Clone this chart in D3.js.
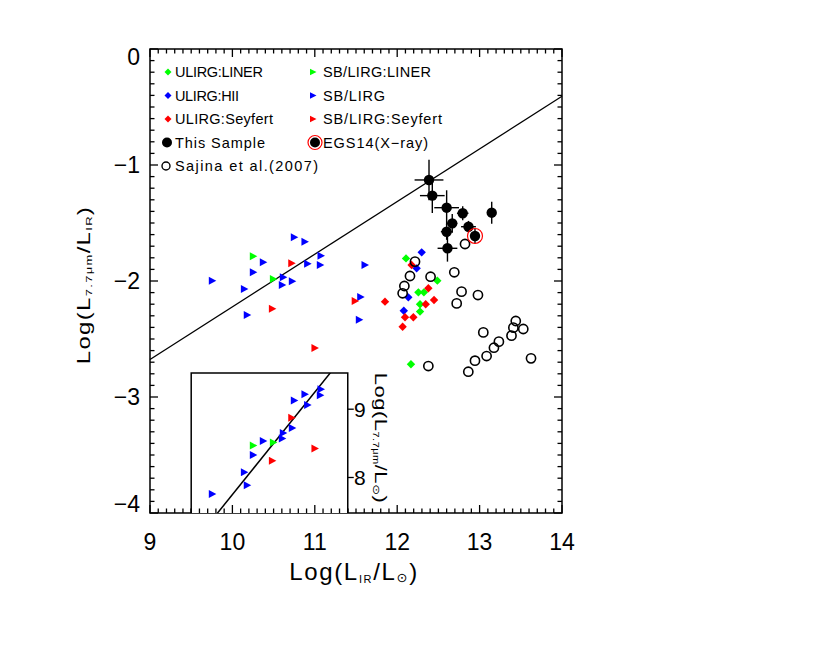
<!DOCTYPE html>
<html><head><meta charset="utf-8">
<script src="https://cdn.jsdelivr.net/npm/d3@7"></script>
<style>body{margin:0;background:#fff}svg{display:block}text{font-family:"Liberation Sans",Arial,sans-serif;fill:#000}</style>
</head><body><svg id="c" width="831" height="653"></svg>
<script>
// ---------- data ----------
const xTicks = [9, 10, 11, 12, 13, 14];
const yTicks = [0, -1, -2, -3, -4];
const insetYTicks = [8, 9];
// ULIRGs (diamonds): [log LIR, log(L7.7/LIR)]
const ulirgLiner = [[12.107,-1.805],[12.487,-1.997],[12.257,-2.098],[12.324,-2.098],[12.277,-2.2],[12.277,-2.264],[12.167,-2.718]];
const ulirgHii = [[12.297,-1.753],[12.236,-1.891],[12.135,-2.141],[12.08,-2.256]];
const ulirgSeyfert = [[12.175,-1.862],[12.378,-2.063],[12.447,-2.164],[12.346,-2.2],[12.095,-2.313],[12.196,-2.313],[12.066,-2.394],[11.852,-2.178]];
// SB/LIRGs (triangles)
const sbLiner = [[10.254,-1.787],[10.497,-1.983]];
const sbLirg = [[9.756,-1.997],[10.751,-1.623],[10.88,-1.661],[11.075,-1.782],[10.375,-1.839],[10.254,-1.925],[10.913,-1.851],[11.067,-1.862],[11.609,-1.862],[10.618,-1.968],[10.727,-2.003],[10.606,-2.034],[10.145,-2.069],[10.18,-2.293],[11.557,-2.138],[11.54,-2.333]];
const sbSeyfert = [[10.72,-1.847],[10.485,-2.239],[11.49,-2.172],[11.002,-2.578]];
// This sample: [x, y, xerr, yerr]
const thisSample = [[12.386,-1.129,0.175,0.175],[12.426,-1.264,0.15,0.15],[12.6,-1.368,0.15,0.15],[12.795,-1.416,0.07,0.06],[13.147,-1.411,0.03,0.095],[12.668,-1.503,0.06,0.08],[12.865,-1.532,0.09,0.05],[12.6,-1.575,0.07,0.07],[12.61,-1.718,0.12,0.115]];
const egs14 = [[12.944,-1.612,0.0,0.065]];
// Sajina et al. (2007)
const sajina = [[12.216,-1.833],[12.405,-1.963],[12.155,-1.957],[12.693,-1.925],[12.087,-2.043],[12.066,-2.106],[12.781,-2.092],[12.98,-2.121],[12.722,-2.193],[13.045,-2.443],[13.439,-2.345],[13.41,-2.402],[13.53,-2.414],[13.387,-2.471],[13.234,-2.523],[13.174,-2.575],[13.085,-2.647],[12.944,-2.687],[12.863,-2.782],[13.624,-2.667],[12.378,-2.733],[12.823,-1.681]];
// fit lines [slope, intercept]
const mainFit = [0.454, -6.763];
const insetFit = [1.5, -7.25];

const legendLeft = [["ULIRG:LINER","#00ff00","diamond"],["ULIRG:HII","#0000ff","diamond"],["ULIRG:Seyfert","#ff0000","diamond"],["This Sample","#000","filled"],["Sajina et al.(2007)","#000","open"]];
const legendRight = [["SB/LIRG:LINER","#00ff00","tri"],["SB/LIRG","#0000ff","tri"],["SB/LIRG:Seyfert","#ff0000","tri"],["EGS14(X\u2212ray)","#000","egs"]];

// ---------- layout ----------
const legendLeftW = [88, 64, 98, 90, 143];
const legendRightW = [108, 62, 119, 105];
const svg = d3.select("#c");
const L = 150, R = 562, T = 49, B = 513;
const x = d3.scaleLinear().domain([9, 14]).range([L, R]);
const y = d3.scaleLinear().domain([-4, 0]).range([B, T]);
const insetXDom = [9.5, 11.4];
const iy = d3.scaleLinear().domain([7.48, 9.53]).range([B, 373]);

const tri = "M-3.5,-4L4,0L-3.5,4Z";
const dia = "M0,-4.2L4.2,0L0,4.2L-4.2,0Z";

function fit(sel, target) {
  const n = sel.text().length;
  const w = sel.node().getComputedTextLength();
  sel.attr("letter-spacing", ((target - w) / (n - 1)).toFixed(2));
}

// ---------- axes ----------
const g = svg.append("g");
const minorX = d3.range(90, 141).map(d => d / 10);
const minorY = d3.range(-40, 1).map(d => d / 10);
minorX.forEach(v => {
  const maj = Math.abs(v - Math.round(v)) < 1e-6;
  const len = maj ? 8 : 4.5;
  g.append("line").attr("x1", x(v)).attr("x2", x(v)).attr("y1", B).attr("y2", B - len).attr("stroke", "#000").attr("stroke-width", 1.3);
  g.append("line").attr("x1", x(v)).attr("x2", x(v)).attr("y1", T).attr("y2", T + len).attr("stroke", "#000").attr("stroke-width", 1.3);
});
minorY.forEach(v => {
  const maj = Math.abs(v - Math.round(v)) < 1e-6;
  const len = maj ? 8 : 4.5;
  g.append("line").attr("x1", L).attr("x2", L + len).attr("y1", y(v)).attr("y2", y(v)).attr("stroke", "#000").attr("stroke-width", 1.3);
  g.append("line").attr("x1", R).attr("x2", R - len).attr("y1", y(v)).attr("y2", y(v)).attr("stroke", "#000").attr("stroke-width", 1.3);
});
xTicks.forEach(v => {
  g.append("text").attr("x", x(v)).attr("y", 550).attr("text-anchor", "middle").attr("font-size", 23).text(String(v));
});
yTicks.forEach(v => {
  let yy = y(v) + 8;
  if (v === 0) yy = y(v) + 16;
  if (v === -4) yy = y(v) - 1;
  g.append("text").attr("x", 140).attr("y", yy).attr("text-anchor", "end").attr("font-size", 23)
    .text(v === 0 ? "0" : "\u2212" + Math.abs(v));
});

// axis titles
const xt = g.append("text").attr("x", 354).attr("y", 580).attr("text-anchor", "middle").attr("font-size", 24);
xt.append("tspan").text("Log(L");
xt.append("tspan").attr("font-size", 11).attr("dy", 3).text("IR");
xt.append("tspan").attr("dy", -3).text("/L");
xt.append("tspan").attr("font-family", "DejaVu Sans").attr("font-size", 13).attr("dy", 2).text("\u2299");
xt.append("tspan").attr("dy", -2).text(")");
fit(xt, 128);

const yt = g.append("text").attr("transform", "translate(90,285) scale(0.76,1) rotate(-90)").attr("text-anchor", "middle").attr("font-size", 24);
yt.append("tspan").text("Log(L");
yt.append("tspan").attr("font-size", 13).attr("dy", 3).text("7.7\u03bcm");
yt.append("tspan").attr("dy", -3).text("/L");
yt.append("tspan").attr("font-size", 13).attr("dy", 3).text("IR");
yt.append("tspan").attr("dy", -3).text(")");
fit(yt, 157);

// frame
g.append("rect").attr("x", L).attr("y", T).attr("width", R - L).attr("height", B - T).attr("fill", "none").attr("stroke", "#000").attr("stroke-width", 1.5);

// ---------- main fit line ----------
svg.append("line").attr("x1", x(9)).attr("y1", y(mainFit[0] * 9 + mainFit[1]))
  .attr("x2", x(14)).attr("y2", y(mainFit[0] * 14 + mainFit[1])).attr("stroke", "#000").attr("stroke-width", 1.3);

// ---------- points ----------
const pts = svg.append("g");
function markers(data, path, color) {
  pts.selectAll(null).data(data).enter().append("path").attr("d", path)
    .attr("transform", d => `translate(${x(d[0])},${y(d[1])})`).attr("fill", color);
}
markers(sbLirg, tri, "#0000ff");
markers(sbLiner, tri, "#00ff00");
markers(sbSeyfert, tri, "#ff0000");
markers(ulirgLiner, dia, "#00ff00");
markers(ulirgHii, dia, "#0000ff");
markers(ulirgSeyfert, dia, "#ff0000");

pts.selectAll(null).data(sajina).enter().append("circle")
  .attr("cx", d => x(d[0])).attr("cy", d => y(d[1])).attr("r", 4.6)
  .attr("fill", "none").attr("stroke", "#000").attr("stroke-width", 1.6);

const eb = [...thisSample, ...egs14];
eb.forEach(d => {
  if (d[2] > 0) pts.append("line").attr("x1", x(d[0] - d[2])).attr("x2", x(d[0] + d[2])).attr("y1", y(d[1])).attr("y2", y(d[1])).attr("stroke", "#000").attr("stroke-width", 1.4);
  if (d[3] > 0) pts.append("line").attr("x1", x(d[0])).attr("x2", x(d[0])).attr("y1", y(d[1] - d[3])).attr("y2", y(d[1] + d[3])).attr("stroke", "#000").attr("stroke-width", 1.4);
});
pts.selectAll(null).data(thisSample).enter().append("circle")
  .attr("cx", d => x(d[0])).attr("cy", d => y(d[1])).attr("r", 5.2).attr("fill", "#000");
pts.selectAll(null).data(egs14).enter().append("circle")
  .attr("cx", d => x(d[0])).attr("cy", d => y(d[1])).attr("r", 7.5).attr("fill", "none").attr("stroke", "#ff0000").attr("stroke-width", 1.2);
pts.selectAll(null).data(egs14).enter().append("circle")
  .attr("cx", d => x(d[0])).attr("cy", d => y(d[1])).attr("r", 5.2).attr("fill", "#000");

// ---------- legend ----------
const lg = svg.append("g");
function legendMarker(gx, gy, kind, color) {
  if (kind === "diamond") lg.append("path").attr("d", "M0,-3.5L3.5,0L0,3.5L-3.5,0Z").attr("transform", `translate(${gx},${gy})`).attr("fill", color);
  else if (kind === "tri") lg.append("path").attr("d", "M-3,-3.2L3.5,0L-3,3.2Z").attr("transform", `translate(${gx},${gy})`).attr("fill", color);
  else if (kind === "filled") lg.append("circle").attr("cx", gx).attr("cy", gy).attr("r", 5).attr("fill", "#000");
  else if (kind === "open") lg.append("circle").attr("cx", gx).attr("cy", gy).attr("r", 4).attr("fill", "none").attr("stroke", "#000").attr("stroke-width", 1.4);
  else if (kind === "egs") {
    lg.append("circle").attr("cx", gx).attr("cy", gy).attr("r", 7).attr("fill", "none").attr("stroke", "#ff0000").attr("stroke-width", 1.2);
    lg.append("circle").attr("cx", gx).attr("cy", gy).attr("r", 5).attr("fill", "#000");
  }
}
const rowY = [72, 95.5, 119, 142.5, 166];
legendLeft.forEach((d, i) => {
  const mx = d[2] === "filled" ? 167 : (d[2] === "open" ? 166 : 168);
  legendMarker(mx, rowY[i], d[2], d[1]);
  const t = lg.append("text").attr("x", 175).attr("y", rowY[i] + 5.2).attr("font-size", 14.5).text(d[0]);
  fit(t, legendLeftW[i]);
});
legendRight.forEach((d, i) => {
  const mx = d[2] === "egs" ? 315 : 313;
  legendMarker(mx, rowY[i], d[2], d[1]);
  const t = lg.append("text").attr("x", 323).attr("y", rowY[i] + 5.2).attr("font-size", 14.5).text(d[0]);
  fit(t, legendRightW[i]);
});

// ---------- inset ----------
const ins = svg.append("g");
const iL = x(insetXDom[0]), iR = x(insetXDom[1]);
ins.append("rect").attr("x", iL).attr("y", iy.range()[1]).attr("width", iR - iL).attr("height", B - iy.range()[1])
  .attr("fill", "#fff").attr("stroke", "none");
minorX.filter(v => v >= insetXDom[0] && v <= insetXDom[1]).forEach(v => {
  const maj = Math.abs(v - Math.round(v)) < 1e-6;
  ins.append("line").attr("x1", x(v)).attr("x2", x(v)).attr("y1", B).attr("y2", B - (maj ? 8 : 4.5)).attr("stroke", "#000").attr("stroke-width", 1.3);
});
ins.append("defs").append("clipPath").attr("id", "ic").append("rect")
  .attr("x", iL).attr("y", iy.range()[1]).attr("width", iR - iL).attr("height", B - iy.range()[1]);
const inside = d => d[0] >= insetXDom[0] && d[0] <= insetXDom[1];
const ig = ins.append("g").attr("clip-path", "url(#ic)");
ig.append("line").attr("x1", x(9.5)).attr("y1", iy(insetFit[0] * 9.5 + insetFit[1]))
  .attr("x2", x(11.4)).attr("y2", iy(insetFit[0] * 11.4 + insetFit[1])).attr("stroke", "#000").attr("stroke-width", 1.5);
function imarkers(data, color) {
  ig.selectAll(null).data(data.filter(inside)).enter().append("path").attr("d", tri)
    .attr("transform", d => `translate(${x(d[0])},${iy(d[0] + d[1])})`).attr("fill", color);
}
imarkers(sbLirg, "#0000ff");
imarkers(sbLiner, "#00ff00");
imarkers(sbSeyfert, "#ff0000");
ins.append("polyline").attr("points", `${iL},${B} ${iL},${iy.range()[1]} ${iR},${iy.range()[1]} ${iR},${B}`)
  .attr("fill", "none").attr("stroke", "#000").attr("stroke-width", 1.5);
insetYTicks.forEach(v => {
  ins.append("line").attr("x1", iR).attr("x2", iR + 6).attr("y1", iy(v)).attr("y2", iy(v)).attr("stroke", "#000").attr("stroke-width", 1.3);
  ins.append("text").attr("x", iR + 12).attr("y", iy(v) + 8).attr("text-anchor", "middle").attr("font-size", 21).text(String(v));
});
const it = ins.append("text").attr("transform", `translate(375,438) scale(0.76,1) rotate(90)`).attr("text-anchor", "middle").attr("font-size", 22);
it.append("tspan").text("Log(L");
it.append("tspan").attr("font-size", 11).attr("dy", 3).text("7.7\u03bcm");
it.append("tspan").attr("dy", -3).text("/L");
it.append("tspan").attr("font-family", "DejaVu Sans").attr("font-size", 13).attr("dy", 2).text("\u2299");
it.append("tspan").attr("dy", -2).text(")");
fit(it, 130);
</script></body></html>
